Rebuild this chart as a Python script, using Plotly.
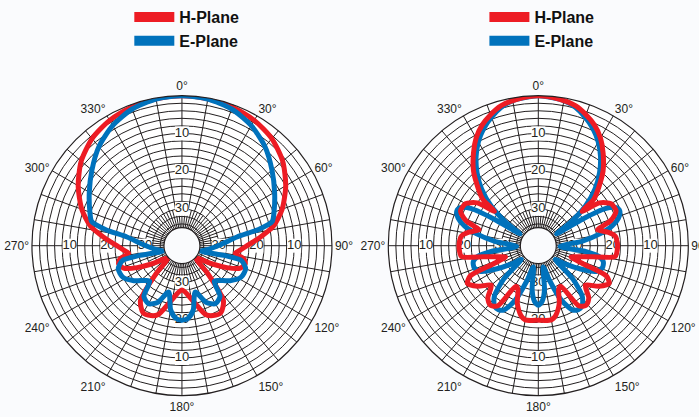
import plotly.graph_objects as go

FONT = "Liberation Sans, Arial, sans-serif"
RED = "#ed1c24"
BLUE = "#0072bc"
GRID = "#231f20"

# ---------------- data (dB relative to peak) ----------------
# Left chart
left_h_theta = [0, 10, 20, 30, 40, 50, 60, 70, 78, 84, 90, 95, 98, 102, 106, 111, 116, 122, 129, 133, 137,
                143, 150, 156, 161, 169, 180, 191, 199, 204, 210, 217, 223, 227, 231, 238, 244, 249, 254,
                258, 262, 265, 270, 276, 282, 290, 300, 310, 320, 330, 340, 350, 360]
left_h_db = [0, -0.2, -0.7, -1.4, -2.7, -4.9, -8, -11.5, -15, -19, -22.5, -24.5, -25.5, -23, -22.3, -23.2,
             -26.5, -31, -34.5, -34.5, -30, -21.5, -19.2, -19.5, -20.5, -25, -28, -25, -20.5, -19.5, -19.2,
             -21.5, -30, -34.5, -34.5, -31, -26.5, -23.2, -22.3, -23, -25.5, -24.5, -22.5, -19, -15, -11.5,
             -8, -4.9, -2.7, -1.4, -0.7, -0.2, 0]

left_e_theta = [0, 10, 20, 30, 40, 50, 60, 70, 75, 78, 81, 89, 97, 106, 103, 104, 110, 118, 126, 134, 138,
                143, 150, 157, 164, 170, 175, 180, 185, 190, 196, 203, 210, 217, 222, 226, 234, 242, 250,
                256, 257, 254, 263, 271, 279, 282, 285, 290, 300, 310, 320, 330, 340, 350, 360]
left_e_db = [0, -0.3, -1.2, -3, -5.5, -8.6, -11.4, -13.8, -15, -19, -25, -29.7, -32.5, -34.5, -28, -23.5,
             -21.8, -22, -24, -26.5, -27, -23, -22, -23.5, -27, -22.5, -20.5, -20, -20.5, -22.5, -27, -23.5,
             -22, -23, -27, -26.5, -24, -22, -21.8, -23.5, -28, -34.5, -32.5, -29.7, -25, -19, -15, -13.8,
             -11.4, -8.6, -5.5, -3, -1.2, -0.3, 0]

# Right chart
right_h_theta = [0, 8, 15, 20, 25, 30, 35, 41, 46, 50, 52, 55, 60, 66, 71, 75, 79, 83, 88, 93, 98, 101.5,
                 105, 109, 112, 114, 118, 124, 130, 136, 141, 146, 151, 155, 160, 166, 170, 180,
                 190, 194, 200, 205, 209, 214, 219, 224, 230, 236, 242, 246, 248, 251, 255, 258.5, 262,
                 267, 272, 277, 281, 285, 289, 294, 300, 305, 308, 310, 314, 319, 325, 330, 335, 340,
                 345, 352, 360]
right_h_db = [0, -0.5, -1.4, -2.8, -4.5, -6.8, -9.8, -13.6, -17.5, -20.5, -25, -20, -17.5, -17.2, -19.5,
              -23.5, -21, -19.2, -18.8, -18.8, -19.2, -25, -28.5, -30.6, -27, -20, -18.5, -20.5, -23.5,
              -20.5, -19.5, -20.5, -27.5, -27, -23.5, -20.7, -19.8, -20,
              -19.8, -20.7, -23.5, -27, -27.5, -20.5, -19.5, -20.5, -23.5, -20.5, -18.5, -20, -27, -30.6,
              -28.5, -25, -19.2, -18.8, -18.8, -19.2, -21, -23.5, -19.5, -17.2, -17.5, -20, -25, -20.5,
              -17.5, -13.6, -9.8, -6.8, -4.5, -2.8, -1.4, -0.5, 0]

right_e_theta = [0, 10, 15, 20, 25, 30, 35, 40, 45, 50, 54, 57, 59, 61, 64, 67, 71, 75, 79, 84, 92, 97, 100,
                 104, 109, 114, 119, 124, 129, 134, 139, 144, 148, 152, 157, 162, 167, 172, 176, 180, 184,
                 188, 193, 198, 203, 208, 212, 216, 221, 226, 231, 236, 241, 246, 251, 256, 260, 263, 268,
                 276, 281, 285, 289, 293, 296, 299, 301, 303, 306, 310, 315, 320, 325, 330, 335, 340, 345,
                 350, 360]
right_e_db = [0, -0.7, -1.8, -3.5, -5.5, -8, -11, -14.5, -18.5, -23.5, -29, -34, -26, -19.5, -16.8, -16.3,
              -17.3, -19.5, -23, -28, -34, -27, -23.5, -22, -21.8, -23, -27, -31, -34, -27, -22, -20, -19.8,
              -20.5, -24, -30, -34, -28, -25, -24, -25, -28, -34, -30, -24, -20.5, -19.8, -20, -22, -27,
              -34, -31, -27, -23, -21.8, -22, -23.5, -27, -34, -28, -23, -19.5, -17.3, -16.3, -16.8, -19.5,
              -26, -34, -29, -23.5, -18.5, -14.5, -11, -8, -5.5, -3.5, -1.8, -0.7, 0]

# axis / labels
angle_ticks = list(range(0, 360, 10))
angle_labels = ["0°", "", "", "30°", "", "", "60°", "", "", "90°", "", "", "120°", "", "", "150°", "", "",
                "180°", "", "", "210°", "", "", "240°", "", "", "270°", "", "", "300°", "", "", "330°", "", ""]
ring_db = list(range(-34, 0, 2))
db_min, db_max = -35, 0
label_db = [-10, -20, -30]
label_text = ["10", "20", "30"]
label_axes = [0, 90, 180, 270]
inner_spoke_angles = list(range(5, 360, 10))
inner_spoke_db = [-35, -30]

fig = go.Figure()


def add_chart(sub, legend, h_theta, h_db, e_theta, e_db, red_on_top):
    # inner short spokes
    th, rr = [], []
    for a in inner_spoke_angles:
        th += [a, a, None]
        rr += [inner_spoke_db[0], inner_spoke_db[1], None]
    fig.add_trace(go.Scatterpolar(r=rr, theta=th, mode="lines", line=dict(color=GRID, width=1),
                                  subplot=sub, showlegend=False, hoverinfo="skip"))
    # radial labels with white backing
    lt, lr, ltxt = [], [], []
    for a in label_axes:
        for d, t in zip(label_db, label_text):
            lt.append(a)
            lr.append(d)
            ltxt.append(t)
    fig.add_trace(go.Scatterpolar(r=lr, theta=lt, text=ltxt, mode="markers+text",
                                  marker=dict(symbol="square", size=14, color="white"),
                                  textfont=dict(family=FONT, size=13, color=GRID),
                                  textposition="middle center", subplot=sub, showlegend=False,
                                  hoverinfo="skip", cliponaxis=False))
    h = go.Scatterpolar(r=h_db, theta=h_theta, mode="lines",
                        line=dict(color=RED, width=5, shape="spline", smoothing=0.7),
                        subplot=sub, showlegend=False, name="H-Plane")
    e = go.Scatterpolar(r=e_db, theta=e_theta, mode="lines",
                        line=dict(color=BLUE, width=5, shape="spline", smoothing=0.7),
                        subplot=sub, showlegend=False, name="E-Plane")
    if red_on_top:
        fig.add_trace(e)
        fig.add_trace(h)
    else:
        fig.add_trace(h)
        fig.add_trace(e)
    # legend entries
    for name, col in (("H-Plane", RED), ("E-Plane", BLUE)):
        fig.add_trace(go.Scatterpolar(r=[None], theta=[None], mode="lines", name=name,
                                      line=dict(color=col, width=12), subplot=sub,
                                      legend=legend, legendgroup=name + legend, showlegend=True))


add_chart("polar", "legend", left_h_theta, left_h_db, left_e_theta, left_e_db, red_on_top=False)
add_chart("polar2", "legend2", right_h_theta, right_h_db, right_e_theta, right_e_db, red_on_top=True)


def polar_layout(xdom):
    return dict(
        domain=dict(x=xdom, y=[0.0511, 0.7705]),
        hole=0.12,
        bgcolor="white",
        angularaxis=dict(rotation=90, direction="clockwise", tickmode="array", tickvals=angle_ticks,
                         ticktext=angle_labels, ticks="", showgrid=True, gridcolor=GRID, gridwidth=1,
                         showline=True, linecolor=GRID, linewidth=1.2,
                         tickfont=dict(family=FONT, size=12, color=GRID)),
        radialaxis=dict(range=[db_min, db_max], tickmode="array", tickvals=ring_db, showticklabels=False,
                        ticks="", showline=False, showgrid=True, gridcolor=GRID, gridwidth=1),
    )


legend_common = dict(orientation="v", yanchor="top", y=1.0, xanchor="left", bgcolor="rgba(0,0,0,0)",
                     font=dict(family=FONT, size=16, color="#111111", weight="bold"),
                     tracegroupgap=0, itemwidth=40)

fig.update_layout(
    width=699, height=417, margin=dict(l=0, r=0, t=0, b=0),
    paper_bgcolor="#fafbfd",
    polar=polar_layout([0.0457, 0.4749]),
    polar2=polar_layout([0.5555, 0.9847]),
    legend=dict(x=0.185, **legend_common),
    legend2=dict(x=0.693, **legend_common),
    showlegend=True,
)

fig.write_html("out.html", config={"displayModeBar": False},
               post_script="document.body.style.margin='0px';document.body.style.overflow='hidden';")
